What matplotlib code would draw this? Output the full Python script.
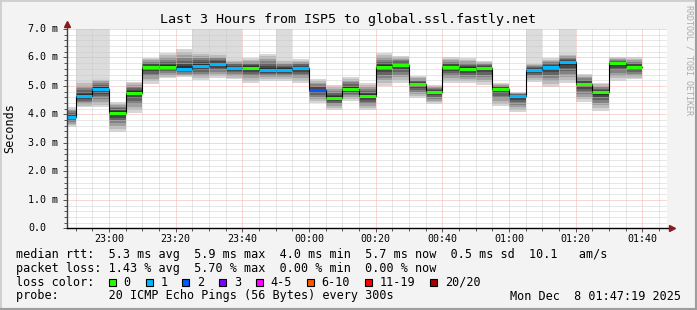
import matplotlib
matplotlib.use("Agg")
import matplotlib.pyplot as plt
import matplotlib.transforms as mtransforms
from matplotlib.patches import Rectangle
from matplotlib.lines import Line2D

# ---- data (values in ms) ----
# time in minutes after 22:00, one probe slot every 5 minutes
t_start, t_end = 47.32, 227.32          # 22:47:19 .. 01:47:19
first_slot, step = 45, 5

median = [3.91, 4.64, 4.90, 4.06, 4.76, 5.67, 5.67, 5.60, 5.70, 5.77, 5.64, 5.64,
          5.57, 5.57, 5.64, 4.86, 4.58, 4.89, 4.64, 5.67, 5.74, 5.07, 4.78, 5.67,
          5.60, 5.64, 4.90, 4.64, 5.57, 5.67, 5.83, 5.07, 4.77, 5.79, 5.67]
loss = [1, 1, 1, 0, 0, 0, 0, 1, 1, 1, 1, 0, 1, 1, 1, 2, 0, 0, 0, 0, 0, 0, 0, 0,
        0, 0, 0, 1, 1, 1, 1, 0, 0, 0, 0]
smoke_lo = [3.57, 4.25, 4.25, 3.39, 4.06, 5.07, 5.27, 5.30, 5.21, 5.27, 5.23, 5.11,
            5.18, 5.18, 5.11, 4.41, 4.17, 4.48, 4.15, 4.99, 5.11, 4.56, 4.36, 5.09,
            5.09, 5.03, 4.29, 4.09, 5.14, 4.97, 5.11, 4.44, 4.13, 5.18, 5.23]
smoke_hi = [4.26, 5.17, 5.27, 4.44, 5.15, 5.99, 6.14, 6.28, 6.20, 6.14, 5.93, 5.97,
            6.12, 5.91, 5.93, 5.23, 5.03, 5.32, 5.11, 6.14, 6.05, 5.35, 5.05, 6.00,
            5.97, 5.89, 5.11, 4.79, 5.82, 5.97, 6.14, 5.42, 5.11, 6.00, 6.00]
ping_max = [4.26, 8.0, 8.0, 4.44, 5.15, 5.99, 6.14, 6.28, 8.0, 8.0, 8.0, 5.97,
            6.12, 8.0, 5.93, 5.23, 5.03, 5.32, 5.11, 6.14, 6.05, 5.35, 5.05, 6.00,
            5.97, 5.89, 5.11, 4.79, 8.0, 5.97, 8.0, 5.42, 5.11, 6.00, 6.00]

tick_labels = ["23:00", "23:20", "23:40", "00:00", "00:20", "00:40", "01:00", "01:20", "01:40"]
y_labels = ["0.0", "1.0 m", "2.0 m", "3.0 m", "4.0 m", "5.0 m", "6.0 m", "7.0 m"]

loss_names = ["0", "1", "2", "3", "4-5", "6-10", "11-19", "20/20"]
loss_colors = ["#26ff00", "#00b8ff", "#0059ff", "#7e00ff", "#ff00ff", "#ff5500", "#ff0000", "#a10000"]

W, H = 697, 310
MONO = "DejaVu Sans Mono"

def fx(px):
    return px / W

def fy(py):
    return 1 - py / H

fig = plt.figure(figsize=(W / 100, H / 100), dpi=100, facecolor="#f3f3f3")

ax = fig.add_axes([fx(66.7), fy(228.3), 600 / W, 199.3 / H])
ax.set_facecolor("white")
ax.set_xlim(t_start, t_end)
ax.set_ylim(0, 7)

slots = [first_slot + step * i for i in range(len(median))]

# smoke: tall outliers first, then nested bands getting darker to the median
ax.bar(slots, [m - h for m, h in zip(ping_max, smoke_hi)], bottom=smoke_hi,
       width=step, align="edge", color="#dcdcdc", linewidth=0, zorder=1)
bands = [(1.0, "#d6d6d6"), (0.85, "#bcbcbc"), (0.7, "#a0a0a0"), (0.55, "#828282"),
         (0.4, "#646464"), (0.26, "#474747"), (0.13, "#2e2e2e")]
for frac, col in bands:
    bot = [m - (m - lo) * frac for m, lo in zip(median, smoke_lo)]
    top = [m + (hi - m) * frac for m, hi in zip(median, smoke_hi)]
    ax.bar(slots, [t - b for t, b in zip(top, bot)], bottom=bot, width=step,
           align="edge", color=col, linewidth=0, zorder=1)

# median line, coloured by loss
ax.step(slots + [slots[-1] + step], median + [median[-1]], where="post",
        color="black", lw=0.8, zorder=4)
ax.hlines(median, slots, [s + step for s in slots],
          colors=[loss_colors[l] for l in loss], lw=2.2, zorder=5)

# grid
major_x = [60 + 20 * i for i in range(len(tick_labels))]
minor_x = [m for m in range(50, 227, 5) if m not in major_x]
ax.set_xticks(major_x)
ax.set_xticks(minor_x, minor=True)
ax.set_yticks(range(8))
ax.set_yticks([v / 5 for v in range(1, 35) if v % 5], minor=True)
ax.set_axisbelow(False)
ax.grid(which="minor", color="#c8c8c8", linestyle=(0, (1, 1)), linewidth=0.72, alpha=0.85)
ax.grid(which="major", color="#f5b0b0", linestyle=(0, (1, 1)), linewidth=0.72)

ax.set_xticklabels(tick_labels, fontsize=7.2, family=MONO)
ax.set_yticklabels([])
ax.tick_params(which="both", direction="out", length=2, width=0.7, color="#555555", pad=1)
ax.tick_params(which="major", length=3)
for s in ax.spines.values():
    s.set_visible(False)

# axes with arrows
ax.plot([0, 0], [0, 1.03], transform=ax.transAxes, color="#404040", lw=1, clip_on=False, zorder=6)
ax.plot([0, 1.01], [0, 0], transform=ax.transAxes, color="black", lw=1, clip_on=False, zorder=6)
ax.plot([0], [1.025], marker="^", ms=4.5, color="#8b1a1a", transform=ax.transAxes, clip_on=False, zorder=7)
ax.plot([1.008], [0], marker=">", ms=4.5, color="#8b1a1a", transform=ax.transAxes, clip_on=False, zorder=7)

# y labels
blend = mtransforms.blended_transform_factory(fig.transFigure, ax.transData)
for v, lab in enumerate(y_labels):
    ax.text(fx(28.3), v, lab, transform=blend, ha="left", va="center",
            fontsize=7.2, family=MONO)

fig.text(fx(348), fy(19), "Last 3 Hours from ISP5 to global.ssl.fastly.net",
         ha="center", va="center", fontsize=9.6, family=MONO)
fig.text(fx(10), fy(128), "Seconds", rotation=90, ha="center", va="center",
         fontsize=8.5, family=MONO)
fig.text(fx(689), fy(5), "RRDTOOL / TOBI OETIKER", rotation=270, ha="center", va="top",
         fontsize=6, family=MONO, color="#ababab")

# legend
fs = 8.5
fig.text(fx(16), fy(254.3),
         "median rtt:  5.3 ms avg  5.9 ms max  4.0 ms min  5.7 ms now  0.5 ms sd  10.1   am/s",
         ha="left", va="center", fontsize=fs, family=MONO)
fig.text(fx(16), fy(268.3),
         "packet loss: 1.43 % avg  5.70 % max  0.00 % min  0.00 % now",
         ha="left", va="center", fontsize=fs, family=MONO)
fig.text(fx(16), fy(282.3), "loss color:", ha="left", va="center", fontsize=fs, family=MONO)
x = 109
for name, col in zip(loss_names, loss_colors):
    fig.patches.append(Rectangle((fx(x), fy(286)), 7 / W, 7 / H, transform=fig.transFigure,
                                 facecolor=col, edgecolor="black", lw=0.8))
    fig.text(fx(x + 14.5), fy(282.3), name, ha="left", va="center", fontsize=fs, family=MONO)
    x += 14.5 + len(name) * 7.14 + 15.1
fig.text(fx(16), fy(296), "probe:       20 ICMP Echo Pings (56 Bytes) every 300s",
         ha="left", va="center", fontsize=fs, family=MONO)
fig.text(fx(681), fy(296), "Mon Dec  8 01:47:19 2025", ha="right", va="center",
         fontsize=fs, family=MONO)

# 3d frame
fig.lines.append(Line2D([0, 0, 1], [0, 1, 1], transform=fig.transFigure, color="#cfcfcf", lw=2))
fig.lines.append(Line2D([0, 1, 1], [0, 0, 1], transform=fig.transFigure, color="#9e9e9e", lw=3))

plt.savefig("out.png", dpi=100, facecolor=fig.get_facecolor())
